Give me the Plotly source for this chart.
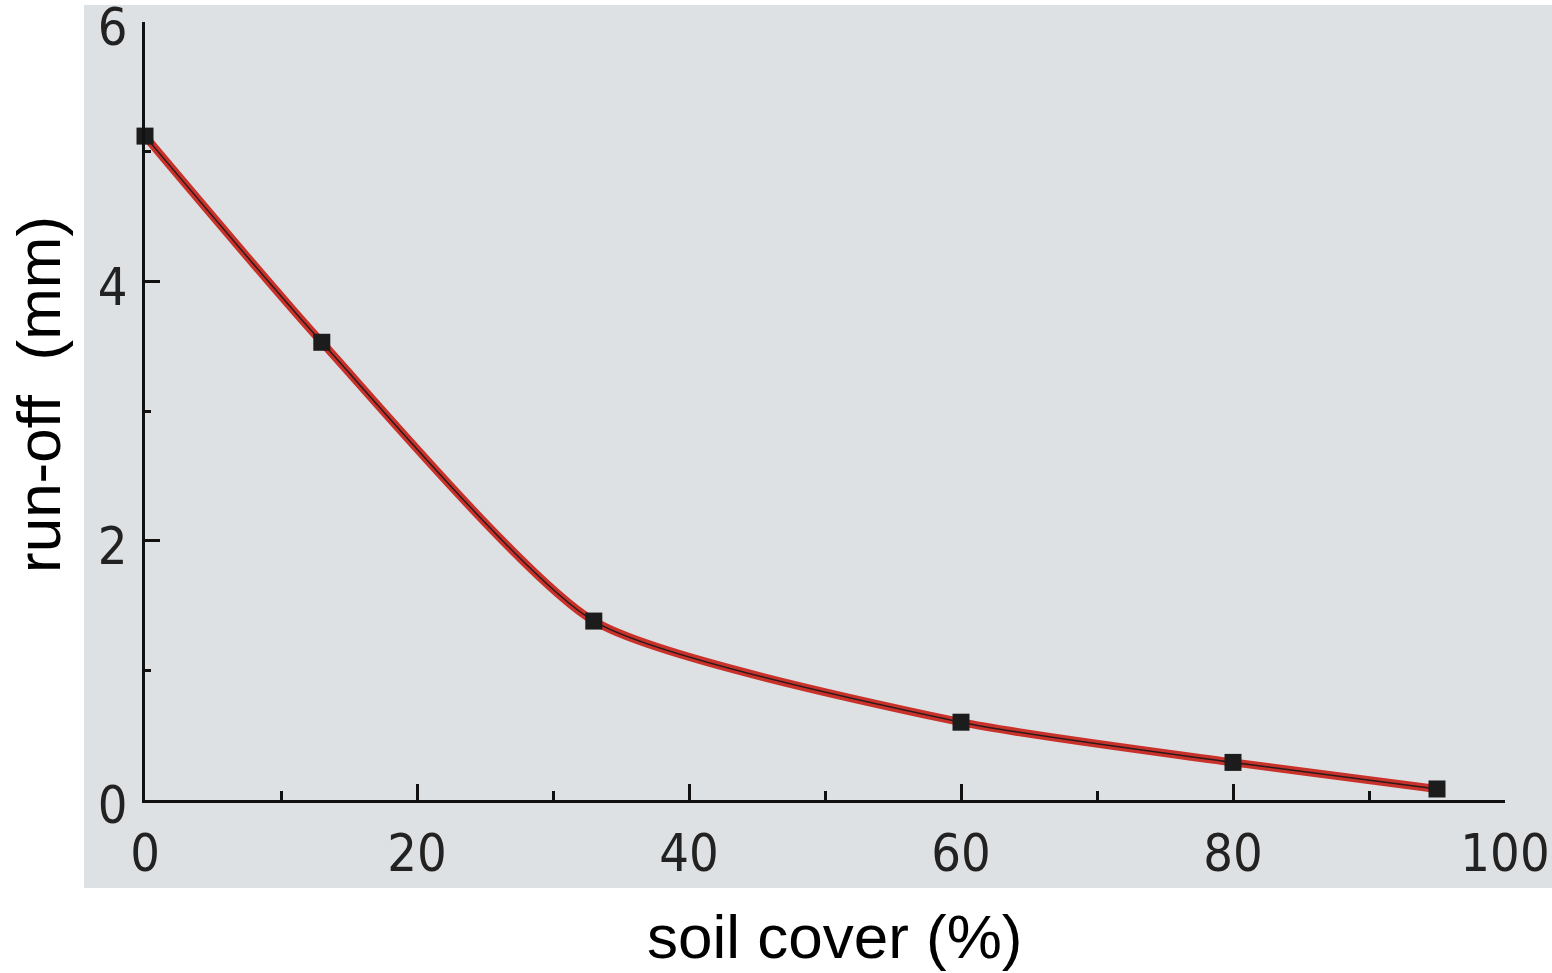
import plotly.graph_objects as go

# Data
soil_cover = [0, 13, 33, 60, 80, 95]          # %
run_off = [5.12, 3.53, 1.38, 0.60, 0.29, 0.085]  # mm

x_ticks = [0, 20, 40, 60, 80, 100]
y_ticks = [0, 2, 4, 6]

W, H = 1552, 973
L, R, T, B = 145, 47, 22, 173
PW, PH = W - L - R, H - T - B


def px_x(p):
    return (p - L) / PW


def px_y(p):
    return (H - B - p) / PH


fig = go.Figure()

# red pen stroke
fig.add_trace(go.Scatter(
    x=soil_cover, y=run_off, mode="lines",
    line=dict(color="#c8322b", width=8, shape="spline", smoothing=0.6),
    hoverinfo="skip", showlegend=False, cliponaxis=False))
# black printed line
fig.add_trace(go.Scatter(
    x=soil_cover, y=run_off, mode="lines+markers",
    line=dict(color="#2a1a1a", width=1.5, shape="spline", smoothing=0.6),
    marker=dict(symbol="square", size=17, color="#1c1c1c"),
    showlegend=False, cliponaxis=False))

tick_font = dict(family="DejaVu Sans Condensed, DejaVu Sans", size=52, color="#222222")
title_font = dict(family="Liberation Sans, Arial", size=62, color="#000000")

fig.update_layout(
    width=W, height=H,
    margin=dict(l=L, r=R, t=T, b=B, pad=0),
    paper_bgcolor="white",
    plot_bgcolor="rgba(0,0,0,0)",
    xaxis=dict(
        range=[0, 100], tickvals=x_ticks, ticktext=[str(v) for v in x_ticks],
        showgrid=False, zeroline=False, automargin=False,
        showline=True, linecolor="#111111", linewidth=3,
        ticks="inside", ticklen=16, tickwidth=3, tickcolor="#111111",
        minor=dict(dtick=10, tick0=0, ticks="inside", ticklen=9, tickwidth=3, tickcolor="#111111"),
        tickfont=tick_font, ticklabelstandoff=6, ticklabeloverflow="allow",
    ),
    yaxis=dict(
        range=[0, 6], tickvals=y_ticks, ticktext=[str(v) for v in y_ticks],
        showgrid=False, zeroline=False, automargin=False,
        showline=True, linecolor="#111111", linewidth=3,
        ticks="inside", ticklen=15, tickwidth=3, tickcolor="#111111",
        minor=dict(dtick=1, tick0=0, ticks="inside", ticklen=6, tickwidth=3, tickcolor="#111111"),
        tickfont=tick_font, ticklabelstandoff=4, ticklabelshift=5,
        ticklabeloverflow="allow",
    ),
    shapes=[dict(
        type="rect", xref="paper", yref="paper", layer="below",
        x0=px_x(84), x1=px_x(1552), y0=px_y(888), y1=px_y(5),
        fillcolor="#dee1e4", line=dict(width=0),
    )],
    annotations=[
        dict(text="soil cover (%)", xref="paper", yref="paper",
             x=px_x(835), y=px_y(936), xanchor="center", yanchor="middle",
             showarrow=False, font=title_font),
        dict(text="run-off  (mm)", xref="paper", yref="paper",
             x=px_x(38), y=px_y(395), xanchor="center", yanchor="middle",
             textangle=-90, showarrow=False, font=title_font),
    ],
)

fig.write_html("out.html")
